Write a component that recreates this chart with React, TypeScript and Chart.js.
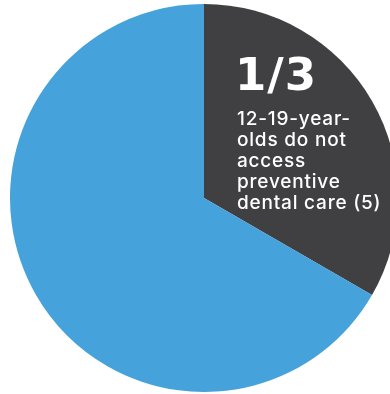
import React, { useEffect, useRef } from "react";
import { Chart, registerables } from "chart.js";

Chart.register(...registerables);

const categories = ["Do not access preventive dental care", "Access preventive dental care"];
const values = [1, 2];
const colors = ["#404043", "#46a2db"];
const headline = "1/3";
const noteLines = ["12-19-year-", "olds do not", "access", "preventive", "dental care (5)"];

const labelPlugin = {
  id: "sliceLabel",
  afterDatasetsDraw(chart: any) {
    const arc = chart.getDatasetMeta(0).data[0];
    if (!arc) return;
    const { x, y, outerRadius } = arc;
    const ctx = chart.ctx;
    ctx.save();
    ctx.fillStyle = "#ffffff";
    ctx.textAlign = "left";
    ctx.textBaseline = "alphabetic";
    const left = x + outerRadius * 0.17;
    ctx.font = "bold 45px 'DejaVu Sans'";
    (ctx as any).letterSpacing = "1px";
    ctx.fillText(headline, left - 2, y - outerRadius * 0.557);
    ctx.font = "500 19px Inter";
    (ctx as any).letterSpacing = "0.8px";
    noteLines.forEach((line, i) => {
      ctx.fillText(line, left, y - outerRadius * 0.376 + i * 21);
    });
    ctx.restore();
  },
};

export default function App() {
  const ref = useRef<HTMLCanvasElement>(null);
  useEffect(() => {
    if (!ref.current) return;
    const chart = new Chart(ref.current, {
      type: "pie",
      data: {
        labels: categories,
        datasets: [
          {
            data: values,
            backgroundColor: colors,
            borderWidth: 0,
          },
        ],
      },
      options: {
        animation: false,
        responsive: false,
        events: [],
        layout: { padding: 0 },
        plugins: {
          legend: { display: false },
          tooltip: { enabled: false },
        },
      },
      plugins: [labelPlugin],
    });
    return () => chart.destroy();
  }, []);
  return (
    <div
      style={{
        position: "fixed",
        left: 0,
        top: 0,
        width: 390,
        height: 394,
        overflow: "hidden",
        background: "#ffffff",
      }}
    >
      <div style={{ position: "absolute", left: 10, top: 4, width: 388, height: 388 }}>
        <canvas ref={ref} width={388} height={388} />
      </div>
    </div>
  );
}
